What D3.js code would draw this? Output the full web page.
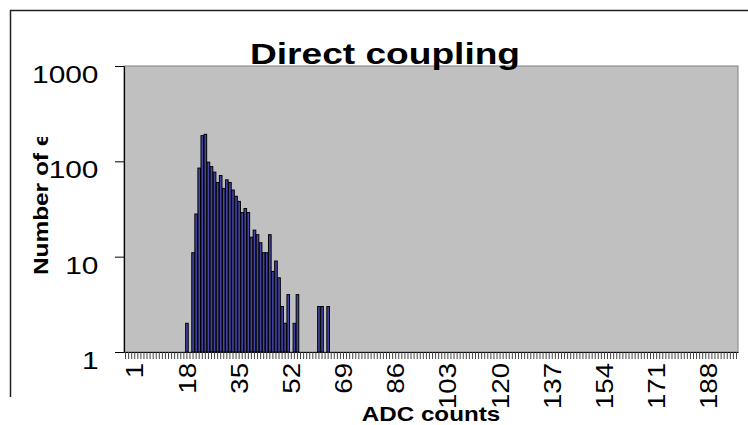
<!DOCTYPE html>
<html>
<head>
<meta charset="utf-8">
<script src="https://cdn.jsdelivr.net/npm/d3@7"></script>
<style>
  body { margin: 0; background: #fff; }
  text { font-family: "Liberation Sans", Arial, sans-serif; }
</style>
</head>
<body>
<div id="root"></div>
<script>
//DATA
const adcBins = [18, 20, 21, 22, 23, 24, 25, 26, 27, 28, 29, 30, 31, 32, 33, 34, 35, 36, 37, 38,
                 39, 40, 41, 42, 43, 44, 45, 46, 47, 48, 49, 50, 51, 53, 54, 61, 62, 64];
const counts  = [2, 11, 28, 85, 186, 192, 98, 88, 77, 60, 71, 52, 64, 60, 50, 43, 38, 29, 32, 29,
                 16, 19, 17, 14, 11, 11, 17, 7, 9, 6, 3, 2, 4, 2, 4, 3, 3, 3];
const categories = d3.range(-2, 198);
const xTickLabels = [1, 18, 35, 52, 69, 86, 103, 120, 137, 154, 171, 188];
const yTickValues = [1, 10, 100, 1000];

const data = adcBins.map((b, i) => ({bin: b, value: counts[i]}));

//DIMENSIONS
const width = 748, height = 425;
const plot = {left: 124, right: 738, top: 66, bottom: 352};

//CREATE SVG
const svg = d3.select('#root')
  .append('svg')
  .attr('width', width)
  .attr('height', height);

//CHART BORDER
svg.append('line')
  .attr('x1', 10).attr('x2', 748).attr('y1', 10.5).attr('y2', 10.5)
  .attr('stroke', '#222').attr('stroke-width', 1.5);
svg.append('line')
  .attr('x1', 10.5).attr('x2', 10.5).attr('y1', 10).attr('y2', 397)
  .attr('stroke', '#222').attr('stroke-width', 1.5);

//SCALES
const x = d3.scaleBand()
  .domain(categories)
  .range([plot.left, plot.right])
  .paddingInner(0.15)
  .paddingOuter(0.075);

const y = d3.scaleLog()
  .domain([1, 1000])
  .range([plot.bottom, plot.top]);

//PLOT AREA
svg.append('rect')
  .attr('x', plot.left)
  .attr('y', plot.top)
  .attr('width', plot.right - plot.left)
  .attr('height', plot.bottom - plot.top)
  .attr('fill', '#c0c0c0')
  .attr('stroke', '#808080')
  .attr('stroke-width', 1);

//BARS
svg.append('g')
  .selectAll('rect')
  .data(data)
  .join('rect')
  .attr('x', d => x(d.bin))
  .attr('width', x.bandwidth())
  .attr('y', d => y(d.value))
  .attr('height', d => plot.bottom - y(d.value))
  .attr('fill', '#4444a4')
  .attr('stroke', '#000')
  .attr('stroke-width', 1);

//X AXIS
const xAxis = svg.append('g')
  .attr('transform', `translate(0,${plot.bottom})`)
  .call(d3.axisBottom(x)
    .tickValues(categories)
    .tickSize(7)
    .tickSizeOuter(0)
    .tickFormat(d => xTickLabels.includes(d) ? d : ''));
xAxis.select('.domain').attr('stroke', '#000').attr('stroke-width', 1.2);
xAxis.selectAll('.tick line').attr('stroke', '#444');
xAxis.selectAll('.tick text')
  .attr('x', 0).attr('y', 8.6).attr('dy', 0)
  .attr('transform', 'translate(0,11) rotate(-90) scale(1.15,1)')
  .attr('text-anchor', 'end')
  .attr('font-size', 24)
  .attr('fill', '#000');

//Y AXIS
const yAxis = svg.append('g')
  .attr('transform', `translate(${plot.left},0)`)
  .call(d3.axisLeft(y)
    .tickValues(yTickValues)
    .tickFormat(d3.format('d'))
    .tickSize(9)
    .tickSizeOuter(0));
yAxis.select('.domain').attr('stroke', '#000').attr('stroke-width', 1.2);
yAxis.selectAll('.tick line').attr('stroke', '#000');
yAxis.selectAll('.tick text')
  .attr('x', 0).attr('dy', 0)
  .attr('transform', 'translate(-25.5,16.5) scale(1.3,1)')
  .attr('text-anchor', 'end')
  .attr('font-size', 23)
  .attr('fill', '#000');

//TITLE
svg.append('text')
  .attr('transform', 'translate(385,63.5) scale(1.28,1)')
  .attr('text-anchor', 'middle')
  .attr('font-size', 29)
  .attr('font-weight', 'bold')
  .text('Direct coupling');

//AXIS TITLES
svg.append('text')
  .attr('transform', 'translate(431,421) scale(1.24,1)')
  .attr('text-anchor', 'middle')
  .attr('font-size', 19.5)
  .attr('font-weight', 'bold')
  .text('ADC counts');

svg.append('clipPath')
  .attr('id', 'ytitle-clip')
  .append('rect')
  .attr('x', 0).attr('y', 137).attr('width', 100).attr('height', 290);

svg.append('g')
  .attr('clip-path', 'url(#ytitle-clip)')
  .append('text')
  .attr('transform', 'translate(47.5,275) rotate(-90) scale(1.19,1)')
  .attr('text-anchor', 'start')
  .attr('font-size', 20.5)
  .attr('font-weight', 'bold')
  .text('Number of events');
</script>
</body>
</html>
